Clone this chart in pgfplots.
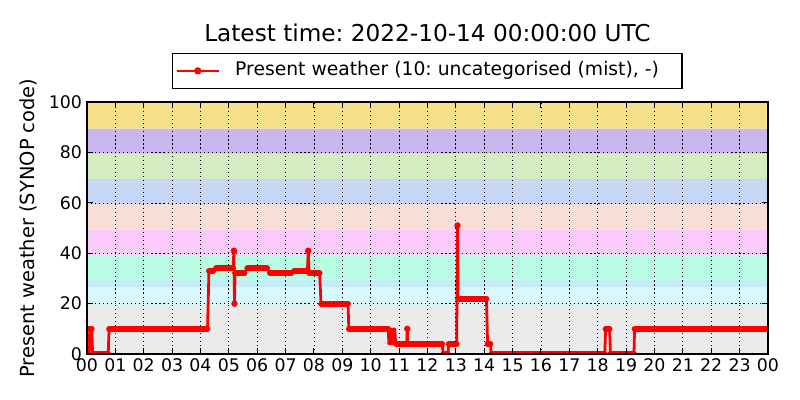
\documentclass[border=0pt]{standalone}
\usepackage{pgfplots}
\pgfplotsset{compat=1.18}
\usepackage{fontspec}
\setmainfont{DejaVu Sans}
\frenchspacing
\definecolor{bgray}{HTML}{EBEBEB}
\definecolor{bcyanA}{HTML}{D8F8FD}
\definecolor{bcyanB}{HTML}{C4ECF4}
\definecolor{bmint}{HTML}{B8FDE3}
\definecolor{bpink}{HTML}{FBCBFD}
\definecolor{bpeach}{HTML}{F8DED6}
\definecolor{bblue}{HTML}{C8D6F5}
\definecolor{bgreen}{HTML}{D3EDC0}
\definecolor{blav}{HTML}{C8B7EF}
\definecolor{byellow}{HTML}{F7DF89}
\begin{document}
\begin{tikzpicture}
\path[use as bounding box] (0,0) rectangle (576pt,288pt);
\begin{axis}[
  at={(62.6pt,33.1pt)}, anchor=south west,
  scale only axis, width=490.3pt, height=181.4pt,
  xmin=0, xmax=24, ymin=0, ymax=100,
  xtick={0,1,...,24},
  xticklabels={00,01,02,03,04,05,06,07,08,09,10,11,12,13,14,15,16,17,18,19,20,21,22,23,00},
  ytick={0,20,40,60,80,100},
  axis on top,
  grid=major,
  major grid style={black, line width=0.5pt, dash pattern=on 0.8pt off 2.1pt},
  axis line style={line width=1pt},
  tick style={black, line width=0.7pt},
  major tick length=4pt,
  tick align=inside,
  ticklabel style={font=\fontsize{12.5}{15}\selectfont},
  /pgf/number format/assume math mode=true,
  ylabel={Present weather (SYNOP code)},
  ylabel style={font=\fontsize{14}{16}\selectfont, at={(axis description cs:-0.0763,0.5)}, anchor=base},
  unbounded coords=jump,
  legend cell align=left,
  legend style={at={(0.5,1)}, anchor=south, yshift=9.4pt, draw=black, line width=1pt,
    font=\fontsize{13.5}{16}\selectfont, inner xsep=2pt, inner ysep=3.8pt,
    nodes={inner xsep=2pt, inner ysep=2pt, text height=10pt, text depth=3.5pt}},
  legend image code/.code={
    \draw[red, line width=2pt] (0pt,0pt) -- (30pt,0pt);
    \fill[red] (15pt,0pt) circle (1.6pt);
    \path (39pt,0pt);
  },
]
% background bands
\addplot[draw=none, fill=bgray, forget plot] coordinates {(0,0)(24,0)(24,19.5)(0,19.5)(0,0)};
\addplot[draw=none, fill=bcyanA, forget plot] coordinates {(0,19.5)(24,19.5)(24,26.5)(0,26.5)(0,19.5)};
\addplot[draw=none, fill=bcyanB, forget plot] coordinates {(0,26.5)(24,26.5)(24,29.5)(0,29.5)(0,26.5)};
\addplot[draw=none, fill=bmint, forget plot] coordinates {(0,29.5)(24,29.5)(24,39.5)(0,39.5)(0,29.5)};
\addplot[draw=none, fill=bpink, forget plot] coordinates {(0,39.5)(24,39.5)(24,49.5)(0,49.5)(0,39.5)};
\addplot[draw=none, fill=bpeach, forget plot] coordinates {(0,49.5)(24,49.5)(24,59.5)(0,59.5)(0,49.5)};
\addplot[draw=none, fill=bblue, forget plot] coordinates {(0,59.5)(24,59.5)(24,69.5)(0,69.5)(0,59.5)};
\addplot[draw=none, fill=bgreen, forget plot] coordinates {(0,69.5)(24,69.5)(24,79.5)(0,79.5)(0,69.5)};
\addplot[draw=none, fill=blav, forget plot] coordinates {(0,79.5)(24,79.5)(24,89.5)(0,89.5)(0,79.5)};
\addplot[draw=none, fill=byellow, forget plot] coordinates {(0,89.5)(24,89.5)(24,100)(0,100)(0,89.5)};
% present weather
\addplot[red, line width=2pt, line join=round, no marks] coordinates {
(0,10)(0.03,0)(0.08,0)(0.12,10)(0.17,10)(0.2,0)(0.75,0)(0.78,10)(4.25,10)(4.3,33)(4.45,33)(4.55,34)
(5.15,34)(5.18,41)(5.2,20)(5.22,32)(5.55,32)(5.65,34)(6.35,34)(6.45,32)(7.2,32)(7.3,33)(7.77,33)
(7.8,41)(7.83,32)(8.2,32)(8.25,20)(9.2,20)(9.23,10)(10.62,10)(10.64,4)(10.67,10)(10.7,4)(10.73,10)
(10.76,4)(10.79,10)(10.82,4)(10.85,10)(10.88,4)(11.27,4)(11.29,10)(11.31,4)(12.52,4)(12.56,0)
(12.72,0)(12.75,4)(13.03,4)(13.06,51)(13.08,22)(14.08,22)(14.12,4)(14.22,4)(14.25,0)(18.25,0)
(18.28,10)(18.42,10)(18.45,0)(19.28,0)(19.3,10)(24,10)
};
\addlegendentry{Present weather (10: uncategorised (mist), -)\rule{12.7pt}{0pt}}
% dense sample markers along the steady stretches
\addplot[red, line width=4.2pt, line cap=round, no marks, forget plot] coordinates {
(0.08,10)(0.17,10)(0.17,nan)
(0.2,0)(0.75,0)(0.75,nan)
(0.78,10)(4.25,10)(4.25,nan)
(4.3,33)(4.45,33)(4.45,nan)
(4.55,34)(5.15,34)(5.15,nan)
(5.22,32)(5.55,32)(5.55,nan)
(5.65,34)(6.35,34)(6.35,nan)
(6.45,32)(7.2,32)(7.2,nan)
(7.3,33)(7.77,33)(7.77,nan)
(7.83,32)(8.2,32)(8.2,nan)
(8.25,20)(9.2,20)(9.2,nan)
(9.23,10)(10.62,10)(10.62,nan)
(10.9,4)(12.52,4)(12.52,nan)
(12.56,0)(12.72,0)(12.72,nan)
(12.75,4)(13.03,4)(13.03,nan)
(13.08,22)(14.08,22)(14.08,nan)
(14.12,4)(14.22,4)(14.22,nan)
(14.25,0)(18.25,0)(18.25,nan)
(18.28,10)(18.42,10)(18.42,nan)
(18.45,0)(19.28,0)(19.28,nan)
(19.3,10)(24,10)
};
\addplot[red, only marks, mark=*, mark size=2.1pt, forget plot] coordinates {
(5.18,41)(5.2,20)(7.8,41)(11.29,10)(13.06,51)
};
\end{axis}
\node[font=\fontsize{16.7}{20}\selectfont, anchor=base] at (307.75pt,258pt) {Latest time: 2022-10-14 00:00:00 UTC};
\end{tikzpicture}
\end{document}
